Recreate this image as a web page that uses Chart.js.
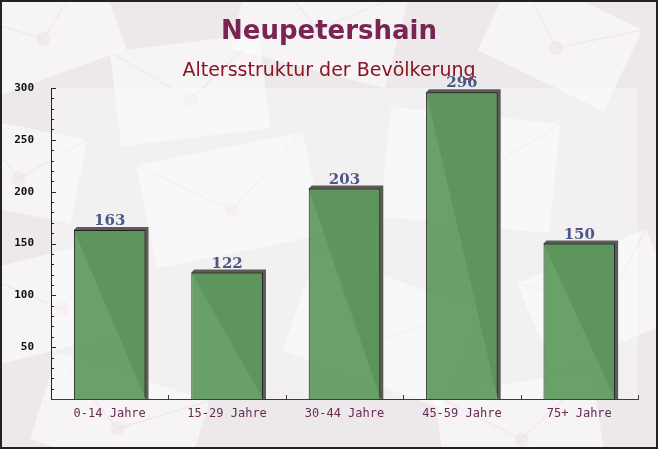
<!DOCTYPE html>
<html>
<head>
<meta charset="utf-8">
<script src="https://cdn.jsdelivr.net/npm/chart.js"></script>
<style>
  body { margin: 0; background: #efebed; }
  #wrap { width: 658px; height: 449px; position: relative; }
</style>
</head>
<body>
<div id="wrap"><canvas id="myChart"></canvas></div>
<script>
// data
const categories = ['0-14 Jahre', '15-29 Jahre', '30-44 Jahre', '45-59 Jahre', '75+ Jahre']
const einwohner = [163, 122, 203, 296, 150]
const yTicks = [50, 100, 150, 200, 250, 300]

const titleText = 'Neupetershain'
const subtitleText = 'Altersstruktur der Bevölkerung'

// envelopes in the background (decoration only)
const envelopes = [
  [40, 30, 150, 95, -0.35], [190, 90, 150, 95, -0.12], [320, 20, 160, 100, 0.25],
  [560, 40, 140, 90, 0.45], [230, 200, 170, 105, -0.2], [470, 170, 170, 110, 0.1],
  [60, 300, 150, 95, -0.25], [380, 330, 170, 105, 0.35], [600, 300, 140, 95, -0.4],
  [120, 420, 160, 90, 0.3], [520, 430, 160, 95, -0.15], [20, 170, 120, 85, 0.2]
]

const bgPlugin = {
  id: 'bg',
  beforeDraw(chart) {
    const c = chart.ctx
    const a = chart.chartArea
    c.save()
    c.fillStyle = '#ede9eb'
    c.fillRect(0, 0, chart.width, chart.height)
    envelopes.forEach(e => {
      c.save()
      c.translate(e[0], e[1])
      c.rotate(e[4])
      c.fillStyle = 'rgba(255,255,255,0.5)'
      c.fillRect(-e[2] / 2, -e[3] / 2, e[2], e[3])
      c.strokeStyle = 'rgba(228,218,221,0.5)'
      c.lineWidth = 1
      c.beginPath()
      c.moveTo(-e[2] / 2, -e[3] / 2)
      c.lineTo(0, e[3] * 0.1)
      c.lineTo(e[2] / 2, -e[3] / 2)
      c.stroke()
      c.fillStyle = 'rgba(240,222,227,0.45)'
      c.beginPath()
      c.arc(0, e[3] * 0.1, 7, 0, Math.PI * 2)
      c.fill()
      c.restore()
    })
    // lighter plot area
    c.fillStyle = 'rgba(255,255,255,0.35)'
    c.fillRect(a.left, a.top, a.right - a.left, a.bottom - a.top)
    c.restore()
  },
  afterDraw(chart) {
    const c = chart.ctx
    c.save()
    c.strokeStyle = '#222'
    c.lineWidth = 2
    c.strokeRect(1, 1, chart.width - 2, chart.height - 2)
    c.restore()
  }
}

// 3d shadow behind the bars, value labels, ticks
const shadowPlugin = {
  id: 'shadow3d',
  beforeDatasetsDraw(chart) {
    const c = chart.ctx
    const d = 3
    c.save()
    c.fillStyle = '#5c5b57'
    chart.getDatasetMeta(0).data.forEach(b => {
      const l = b.x - b.width / 2, r = b.x + b.width / 2
      c.beginPath()
      c.moveTo(l, b.y)
      c.lineTo(l + d, b.y - d)
      c.lineTo(r + d, b.y - d)
      c.lineTo(r + d, b.base)
      c.lineTo(r, b.base)
      c.closePath()
      c.fill()
    })
    c.restore()
  },
  afterDatasetsDraw(chart) {
    const c = chart.ctx
    const meta = chart.getDatasetMeta(0)
    c.save()
    c.font = 'bold 15px "DejaVu Serif"'
    c.fillStyle = '#4c5888'
    c.textAlign = 'center'
    c.textBaseline = 'alphabetic'
    meta.data.forEach((b, i) => {
      c.fillText(einwohner[i], b.x, b.y - 5)
    })
    c.restore()
  },
  afterDraw(chart) {
    const c = chart.ctx
    const y = chart.scales.y
    const a = chart.chartArea
    c.save()
    c.strokeStyle = '#222'
    c.lineWidth = 1
    for (let v = 10; v <= 300; v += 10) {
      const py = Math.round(y.getPixelForValue(v)) + 0.5
      const len = v % 50 === 0 ? 5 : 3
      c.beginPath()
      c.moveTo(a.left, py)
      c.lineTo(a.left + len, py)
      c.stroke()
    }
    c.strokeStyle = '#5a2a45'
    const w = (a.right - a.left) / categories.length
    for (let i = 1; i <= categories.length; i++) {
      const px = Math.round(a.left + i * w) + 0.5
      c.beginPath()
      c.moveTo(px, a.bottom)
      c.lineTo(px, a.bottom - 4)
      c.stroke()
    }
    c.restore()
  }
}

const ctx = document.getElementById('myChart').getContext('2d')

const data = {
  labels: categories,
  datasets: [{
    data: einwohner,
    backgroundColor: 'rgba(94,154,94,0.93)',
    borderColor: '#1e1e1e',
    borderWidth: 1,
    barPercentage: 0.61,
    categoryPercentage: 1
  }]
}

const config = {
  type: 'bar',
  data: data,
  options: {
    responsive: true,
    maintainAspectRatio: false,
    animation: false,
    layout: { padding: 0 },
    plugins: {
      legend: { display: false },
      tooltip: { enabled: false },
      title: {
        display: true,
        text: titleText,
        color: '#7a2456',
        font: { family: '"DejaVu Sans"', size: 26, weight: 'bold' },
        padding: { top: 17, bottom: 0 }
      },
      subtitle: {
        display: true,
        text: subtitleText,
        color: '#8a1522',
        font: { family: '"DejaVu Sans"', size: 19, weight: 'normal' },
        padding: { top: 11, bottom: 6 }
      }
    },
    scales: {
      y: {
        min: 0,
        max: 300,
        afterFit: s => { s.width = 51 },
        afterBuildTicks: s => { s.ticks = yTicks.map(v => ({ value: v })) },
        grid: { display: false },
        border: { display: true, color: '#222', width: 1 },
        ticks: {
          padding: 9,
          color: '#111',
          font: { family: '"DejaVu Sans Mono"', size: 11, weight: 'bold' }
        }
      },
      // empty right axis only keeps a 20px margin
      yRight: {
        position: 'right',
        min: 0,
        max: 300,
        afterFit: s => { s.width = 20 },
        grid: { display: false },
        border: { display: false },
        ticks: { display: false }
      },
      x: {
        afterFit: s => { s.height = 50 },
        grid: { display: false },
        border: { display: true, color: '#5a2a45', width: 1 },
        ticks: {
          padding: 0,
          color: '#6a2a55',
          font: { family: '"DejaVu Sans Mono"', size: 12 }
        }
      }
    }
  },
  plugins: [bgPlugin, shadowPlugin]
}

const myChart = new Chart(ctx, config)
</script>
</body>
</html>
